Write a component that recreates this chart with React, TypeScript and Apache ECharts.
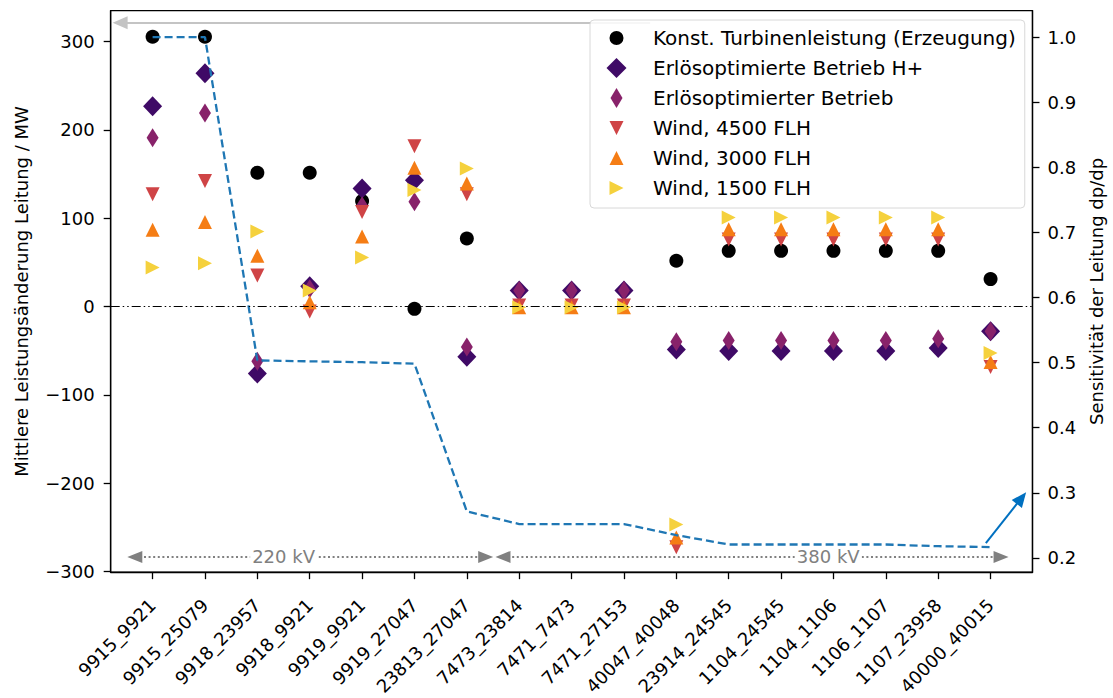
import React, { useEffect, useRef } from 'react';
import * as echarts from 'echarts';

const FONT = 'DejaVu Sans';

const categories = [
  '9915_9921', '9915_25079', '9918_23957', '9918_9921', '9919_9921', '9919_27047',
  '23813_27047', '7473_23814', '7471_7473', '7471_27153', '40047_40048', '23914_24545',
  '1104_24545', '1104_1106', '1106_1107', '1107_23958', '40000_40015',
];

const konstTurbine = [305.5, 305.5, 151.5, 151.5, 119.5, -2.7, 77, null, null, null, 51.8, 63, 63, 63, 63, 63, 31];
const erloesHplus = [226.7, 264.3, -76, 23, 133.7, 143, -57, 18, 18, 18, -48.6, -50.5, -50.5, -50.5, -50.5, -47, -28];
const erloesBetrieb = [191, 219, -62, 20, 114, 118.7, -46, 18, 18, 18, -40, -38.5, -38.5, -38.5, -38.5, -36.5, -28];
const wind4500 = [127, 142, 35, -5.7, 107, 181.5, 127, 1, 1, 1, -272.7, 76, 76, 76, 76, 76, -68.5];
const wind3000 = [86.8, 95.8, 57.5, 4.8, 79.3, 157, 139.4, -1, -1, -1, -261.5, 87.5, 87.5, 87.5, 87.5, 87.5, -63];
const wind1500 = [44.3, 48.9, 85, 18, 55.6, 132, 156.4, -1, -1, -1, -247, 100.7, 100.7, 100.7, 100.7, 100.7, -52.7];
const sensitivity = [1.0, 1.0, 0.5034, 0.502, 0.5007, 0.4984, 0.2714, 0.252, 0.252, 0.252, 0.235, 0.2206, 0.2206, 0.2206, 0.2206, 0.218, 0.2166];

const leftTicks = [-300, -200, -100, 0, 100, 200, 300];
const rightTicks = [0.2, 0.3, 0.4, 0.5, 0.6, 0.7, 0.8, 0.9, 1.0];
const xTicks = categories.map((_, i) => i);

// annotations (data coordinates)
const voltageY = -283.6;
const voltageSpans = [
  { label: '220 kV', from: -0.34, to: 6.36, textAt: 2.5 },
  { label: '380 kV', from: 6.69, to: 16.2, textAt: 12.9 },
];
const leftArrow = { fromX: 9.5, toX: -0.62, y: 321.4 };
const rightArrow = { from: [15.91, 0.2229], to: [16.59, 0.2919] };

const pairs = (arr: (number | null)[]) =>
  arr.map((v, i) => (v == null ? null : [i, v])).filter((p) => p !== null);

const PAD = ' M0,0L0.01,0L0,0.01Z M20,20L19.99,20L20,19.99Z';
const ICONS = {
  circle: 'path://M3,10A7,7,0,1,1,17,10A7,7,0,1,1,3,10Z' + PAD,
  diamond: 'path://M10,0L20,10L10,20L0,10Z',
  thinDiamond: 'path://M6,0L12,10L6,20L0,10Z',
  down: 'path://M3,3L17,3L10,17Z' + PAD,
  up: 'path://M10,3L17,17L3,17Z' + PAD,
  right: 'path://M3,3L17,10L3,17Z' + PAD,
};

const names = [
  'Konst. Turbinenleistung (Erzeugung)',
  'Erlösoptimierte Betrieb H+',
  'Erlösoptimierter Betrieb',
  'Wind, 4500 FLH',
  'Wind, 3000 FLH',
  'Wind, 1500 FLH',
];
const colors = ['#000000', '#3f0a66', '#88226a', '#cf4446', '#f57d15', '#f5d13d'];

export default function App() {
  const ref = useRef<HTMLDivElement>(null);
  useEffect(() => {
    document.body.style.margin = '0';
    const chart = echarts.init(ref.current!, null, { renderer: 'svg' });
    const axisLineStyle = { color: '#000', width: 1.3 };
    const tickFont = { fontSize: 18, color: '#000', fontFamily: FONT };
    const mk = (i: number) => ({ color: colors[i], opacity: 1 });
    const option: any = {
      animation: false,
      grid: {
        left: 110.7, right: 76, top: 10.7, bottom: 123.7,
        show: true, borderColor: '#000', borderWidth: 1.3, backgroundColor: 'transparent',
      },
      legend: {
        orient: 'vertical', left: 590, top: 20, z: 10,
        itemWidth: 24, itemHeight: 20, itemGap: 10,
        padding: [8, 9, 10, 16.5],
        backgroundColor: 'rgba(255,255,255,0.85)', borderColor: '#d8d8d8', borderWidth: 1, borderRadius: 4,
        selectedMode: false,
        symbolKeepAspect: true,
        textStyle: { fontSize: 20, fontFamily: FONT, color: '#000', lineHeight: 20, padding: [0, 0, 0, 19.5] },
        data: [
          { name: names[0], icon: ICONS.circle },
          { name: names[1], icon: ICONS.diamond },
          { name: names[2], icon: ICONS.thinDiamond },
          { name: names[3], icon: ICONS.down },
          { name: names[4], icon: ICONS.up },
          { name: names[5], icon: ICONS.right },
        ],
      },
      xAxis: {
        type: 'value', min: -0.8, max: 16.8,
        splitLine: { show: false },
        axisLine: { show: true, onZero: false, lineStyle: axisLineStyle },
        axisTick: { show: true, customValues: xTicks, length: 7, lineStyle: axisLineStyle },
        axisLabel: {
          customValues: xTicks, rotate: 45, margin: 30, ...tickFont,
          formatter: (v: number) => categories[Math.round(v)],
        },
      },
      yAxis: [
        {
          type: 'value', min: -300.9, max: 335, position: 'left',
          splitLine: { show: false },
          axisLine: { show: true, onZero: false, lineStyle: axisLineStyle },
          axisTick: { show: true, customValues: leftTicks, length: 7, lineStyle: axisLineStyle },
          axisLabel: {
            customValues: leftTicks, margin: 16, ...tickFont,
            formatter: (v: number) => String(v).replace('-', '\u2212'),
          },
          name: 'Mittlere Leistungsänderung Leitung / MW',
          nameLocation: 'middle', nameRotate: 90, nameGap: 80,
          nameTextStyle: { fontSize: 18, color: '#000', fontFamily: FONT },
        },
        {
          type: 'value', min: 0.1781, max: 1.0407, position: 'right',
          splitLine: { show: false },
          axisLine: { show: true, onZero: false, lineStyle: axisLineStyle },
          axisTick: { show: true, customValues: rightTicks, length: 7, lineStyle: axisLineStyle },
          axisLabel: {
            customValues: rightTicks, margin: 15, ...tickFont,
            formatter: (v: number) => v.toFixed(1),
          },
          name: 'Sensitivität der Leitung dp/dp',
          nameLocation: 'middle', nameRotate: 90, nameGap: 52,
          nameTextStyle: { fontSize: 18, color: '#000', fontFamily: FONT },
        },
      ],
      series: [
        {
          type: 'scatter', name: names[0], yAxisIndex: 0, data: pairs(konstTurbine),
          symbol: 'circle', symbolSize: 14, itemStyle: mk(0),
          markLine: {
            silent: true, symbol: ['none', 'none'], label: { show: false },
            data: [
              { yAxis: 0, lineStyle: { color: '#000', width: 1.2, type: [9, 3, 1.5, 3, 1.5, 3] } },
              ...voltageSpans.map((s) => [
                {
                  coord: [s.from, voltageY], symbol: 'triangle', symbolSize: [12, 15],
                  lineStyle: { color: '#808080', width: 2, type: [2, 2.6] }, itemStyle: { color: '#808080' },
                },
                { coord: [s.to, voltageY], symbol: 'triangle', symbolSize: [12, 15], itemStyle: { color: '#808080' } },
              ]),
              [
                {
                  coord: [leftArrow.fromX, leftArrow.y], symbol: 'none',
                  lineStyle: { color: '#c4c4c4', width: 2, type: 'solid' }, itemStyle: { color: '#c4c4c4' },
                },
                { coord: [leftArrow.toX, leftArrow.y], symbol: 'triangle', symbolSize: [13, 15], itemStyle: { color: '#c4c4c4' } },
              ],
            ],
          },
          markPoint: {
            silent: true, z: 6, symbol: 'rect', symbolSize: [1, 1],
            itemStyle: { color: 'rgba(0,0,0,0)' },
            label: {
              show: true, position: 'inside', color: '#808080', fontSize: 18, fontFamily: FONT,
              backgroundColor: '#fff', padding: [0, 2],
              formatter: (p: any) => p.name,
            },
            data: voltageSpans.map((s) => ({ name: s.label, coord: [s.textAt, voltageY] })),
          },
        },
        {
          type: 'scatter', name: names[1], yAxisIndex: 0, data: pairs(erloesHplus),
          symbol: 'diamond', symbolSize: [19, 20], itemStyle: mk(1),
        },
        {
          type: 'scatter', name: names[2], yAxisIndex: 0, data: pairs(erloesBetrieb),
          symbol: 'diamond', symbolSize: [12, 19], itemStyle: mk(2),
        },
        {
          type: 'scatter', name: names[3], yAxisIndex: 0, data: pairs(wind4500),
          symbol: 'path://M0,0L10,0L5,10Z', symbolSize: 14, symbolKeepAspect: true, itemStyle: mk(3),
        },
        {
          type: 'scatter', name: names[4], yAxisIndex: 0, data: pairs(wind3000),
          symbol: 'path://M5,0L10,10L0,10Z', symbolSize: 14, symbolKeepAspect: true, itemStyle: mk(4),
        },
        {
          type: 'scatter', name: names[5], yAxisIndex: 0, data: pairs(wind1500),
          symbol: 'path://M0,0L10,5L0,10Z', symbolSize: 14, symbolKeepAspect: true, itemStyle: mk(5),
        },
        {
          type: 'line', name: 'Sensitivität', yAxisIndex: 1, data: pairs(sensitivity),
          symbol: 'none', showSymbol: false,
          lineStyle: { color: '#1f77b4', width: 2.3, type: [8, 4] }, itemStyle: { color: '#1f77b4' },
          markLine: {
            silent: true, symbol: ['none', 'none'], label: { show: false },
            data: [
              [
                {
                  coord: rightArrow.from, symbol: 'none',
                  lineStyle: { color: '#0070c0', width: 2, type: 'solid' }, itemStyle: { color: '#0070c0' },
                },
                { coord: rightArrow.to, symbol: 'triangle', symbolSize: [13, 15], itemStyle: { color: '#0070c0' } },
              ],
            ],
          },
        },
      ],
    };
    chart.setOption(option);
    return () => chart.dispose();
  }, []);
  return <div ref={ref} style={{ width: 1113, height: 698 }} />;
}
